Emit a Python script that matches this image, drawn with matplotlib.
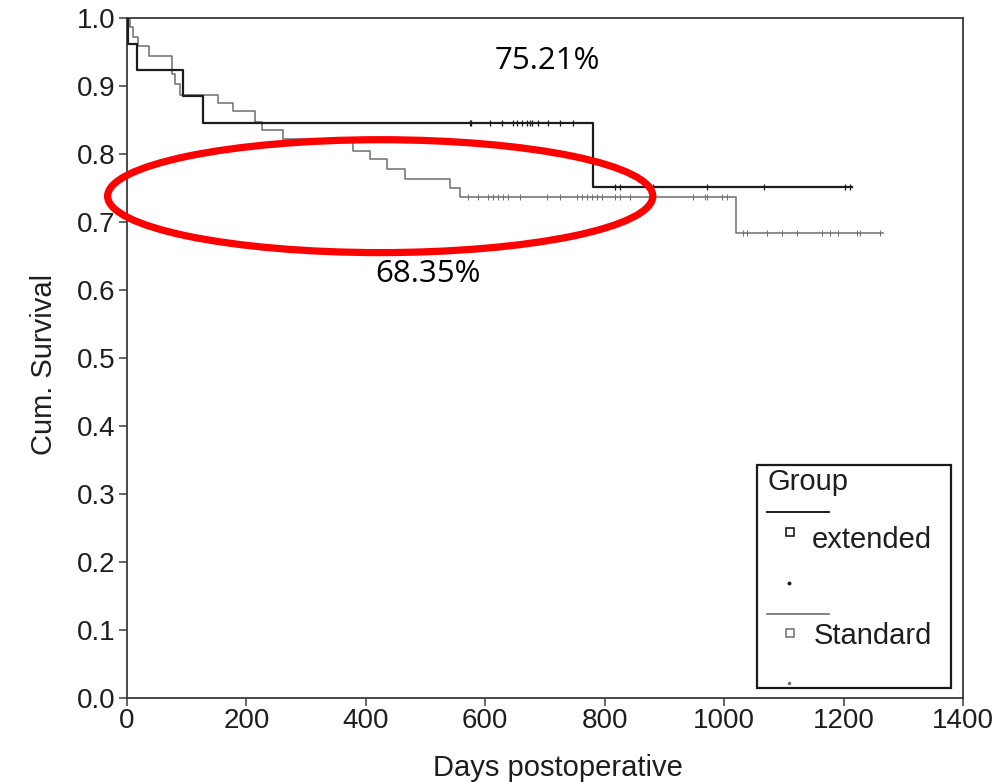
import matplotlib.pyplot as plt
from matplotlib.patches import Ellipse, Rectangle
from matplotlib.lines import Line2D
import numpy as np

plt.rcParams['font.family'] = ['Liberation Sans', 'DejaVu Sans']

# Kaplan-Meier step values (day of change, survival from that day on)
ext_t = [0, 1, 17, 94, 127, 780, 1214]
ext_s = [1.0, 0.9615, 0.9231, 0.8846, 0.8462, 0.7521, 0.7521]

std_t = [0, 5, 10, 19, 36, 75, 80, 89, 152, 178, 214, 226, 261, 378, 407,
         435, 466, 541, 558, 1020, 1266]
std_s = [1.0, 0.987, 0.972, 0.959, 0.944, 0.9175, 0.903, 0.887, 0.8755,
         0.8627, 0.847, 0.8355, 0.822, 0.8045, 0.792, 0.7776, 0.763, 0.7507,
         0.7364, 0.6835, 0.6835]

# censored observations (days)
ext_cens = [574, 576, 608, 628, 646, 653, 662, 670, 675, 678, 688, 705, 725,
            747, 817, 826, 881, 971, 1067, 1202, 1211]
std_cens = [571, 588, 605, 613, 621, 630, 638, 658, 703, 725, 754, 762, 770,
            779, 787, 796, 817, 826, 842, 948, 968, 972, 997, 1005, 1032, 1038,
            1072, 1097, 1122, 1164, 1177, 1191, 1223, 1228, 1261]

ext_final = 75.21
std_final = 68.35

x_ticks = [0, 200, 400, 600, 800, 1000, 1200, 1400]
y_ticks = [0.0, 0.1, 0.2, 0.3, 0.4, 0.5, 0.6, 0.7, 0.8, 0.9, 1.0]

EXT_COLOR = '#1c1c1c'
STD_COLOR = '#6e6e6e'
AX_COLOR = '#3a3a3a'
TXT_COLOR = '#1e1e1e'


def surv_at(times, surv, days):
    idx = np.searchsorted(times, days, side='right') - 1
    return np.asarray(surv)[idx]


fig = plt.figure(figsize=(9.97, 7.82), dpi=100)
ax = fig.add_axes([0.1274, 0.1074, 0.8385, 0.8696])

ax.step(ext_t, ext_s, where='post', color=EXT_COLOR, lw=1.6, zorder=3)
ax.step(std_t, std_s, where='post', color=STD_COLOR, lw=1.1, zorder=2)
ax.plot(ext_cens, surv_at(ext_t, ext_s, ext_cens), ls='none', marker='|',
        ms=4, mew=0.9, color=EXT_COLOR, zorder=3)
ax.plot(std_cens, surv_at(std_t, std_s, std_cens), ls='none', marker='|',
        ms=4, mew=0.7, color=STD_COLOR, zorder=2)

ax.set_xlim(0, 1400)
ax.set_ylim(0, 1.0)
ax.set_xticks(x_ticks)
ax.set_yticks(y_ticks)
ax.set_yticklabels(['%.1f' % v for v in y_ticks])
ax.tick_params(axis='both', direction='out', length=5.5, width=1.1,
               color=AX_COLOR, labelsize=20, labelcolor=TXT_COLOR)
ax.tick_params(axis='y', pad=3)
ax.tick_params(axis='x', pad=2)
for sp in ax.spines.values():
    sp.set_color(AX_COLOR)
    sp.set_linewidth(1.3)

ax.set_xlabel('Days postoperative', fontsize=21, color=TXT_COLOR)
ax.set_ylabel('Cum. Survival', fontsize=21, color=TXT_COLOR)
ax.xaxis.set_label_coords(0.5155, -0.082)
ax.yaxis.set_label_coords(-0.082, 0.49)

# legend box drawn by hand: group title, line, square, censor dot
tr = ax.transAxes
ax.add_patch(Rectangle((0.7536, 0.0147), 0.232, 0.3284, transform=tr,
                       fill=False, ec='#1a1a1a', lw=1.6, zorder=5))
ax.text(0.7667, 0.3053, 'Group', transform=tr, fontsize=21,
        va='baseline', ha='left', color=TXT_COLOR)
ax.add_line(Line2D([0.7656, 0.8397], [0.2739, 0.2739], transform=tr,
                   color=EXT_COLOR, lw=1.4))
ax.plot([0.7931], [0.2445], transform=tr, marker='s', ms=5.5, mfc='white',
        mec=EXT_COLOR, mew=1.2)
ax.text(0.8194, 0.2209, 'extended', transform=tr, fontsize=21,
        va='baseline', ha='left', color=TXT_COLOR)
ax.plot([0.7919], [0.1694], transform=tr, marker='o', ms=1.8,
        color=EXT_COLOR)
ax.add_line(Line2D([0.7656, 0.8397], [0.1237, 0.1237], transform=tr,
                   color=STD_COLOR, lw=1.2))
ax.plot([0.7931], [0.0957], transform=tr, marker='s', ms=5.5, mfc='white',
        mec=STD_COLOR, mew=1.1)
ax.text(0.8218, 0.0795, 'Standard', transform=tr, fontsize=21,
        va='baseline', ha='left', color=TXT_COLOR)
ax.plot([0.7919], [0.0221], transform=tr, marker='o', ms=1.5,
        color=STD_COLOR)

# highlight ring around the plateau region
ax.add_patch(Ellipse((424, 0.738), 913, 0.166, fill=False, ec='#ff0000',
                     lw=5.2, clip_on=False, zorder=6))

ax.text(704, 0.937, '%.2f%%' % ext_final, fontsize=22.5, family='Open Sans',
        ha='center', va='center', color='black')
ax.text(504, 0.623, '%.2f%%' % std_final, fontsize=22.5, family='Open Sans',
        ha='center', va='center', color='black')

fig.savefig('out.png', dpi=100)
